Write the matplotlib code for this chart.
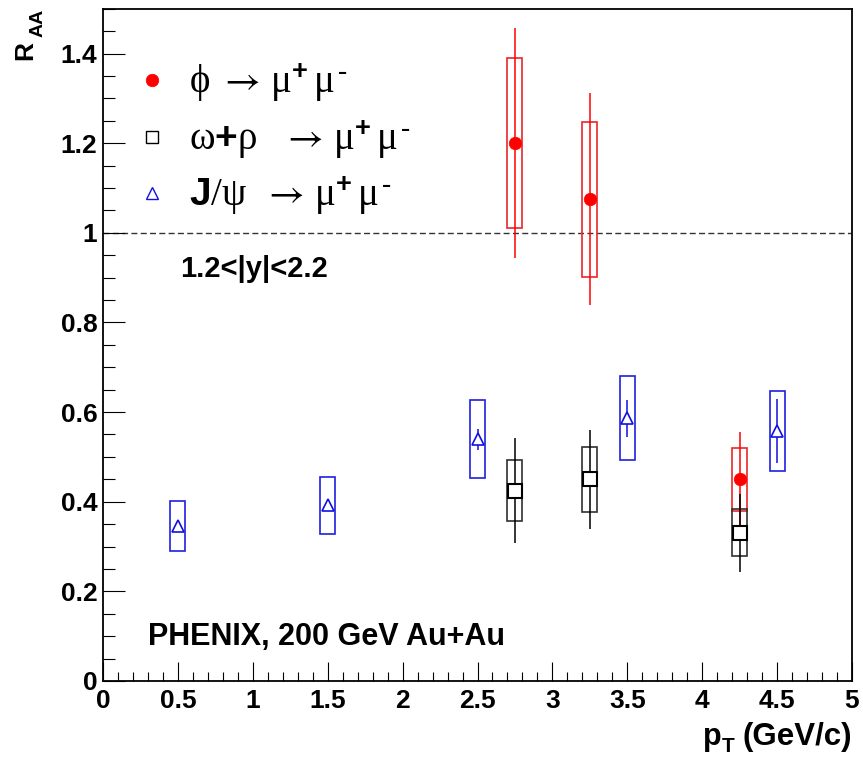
import matplotlib
matplotlib.use("Agg")
import matplotlib.pyplot as plt
from matplotlib.patches import Rectangle
from matplotlib.ticker import MultipleLocator

plt.rcParams['font.family'] = ['Liberation Sans', 'DejaVu Sans']
plt.rcParams['mathtext.fontset'] = 'custom'
plt.rcParams['mathtext.rm'] = 'Liberation Serif'
plt.rcParams['mathtext.it'] = 'Liberation Serif:italic'
plt.rcParams['mathtext.bf'] = 'Liberation Sans:bold'
plt.rcParams['mathtext.sf'] = 'STIXGeneral'

# phi -> mu+ mu-
phi_pt = [2.75, 3.25, 4.25]
phi_raa = [1.20, 1.075, 0.45]
phi_stat = [0.257, 0.236, 0.105]
phi_sys = [0.19, 0.173, 0.07]

# omega + rho -> mu+ mu-
omg_pt = [2.75, 3.25, 4.25]
omg_raa = [0.425, 0.450, 0.331]
omg_stat = [0.118, 0.110, 0.087]
omg_sys = [0.069, 0.073, 0.053]

# J/psi -> mu+ mu-
jpsi_pt = [0.5, 1.5, 2.5, 3.5, 4.5]
jpsi_raa = [0.345, 0.392, 0.539, 0.586, 0.558]
jpsi_stat = [0.010, 0.010, 0.024, 0.041, 0.071]
jpsi_sys = [0.056, 0.063, 0.087, 0.094, 0.089]

x_ticks = [0, 0.5, 1, 1.5, 2, 2.5, 3, 3.5, 4, 4.5, 5]
x_ticklabels = ['0', '0.5', '1', '1.5', '2', '2.5', '3', '3.5', '4', '4.5', '5']
y_ticks = [0, 0.2, 0.4, 0.6, 0.8, 1.0, 1.2, 1.4]
y_ticklabels = ['0', '0.2', '0.4', '0.6', '0.8', '1', '1.2', '1.4']

W, H = 863, 760
fig = plt.figure(figsize=(W / 100, H / 100), dpi=100)
ax = fig.add_axes([103 / W, 79 / H, (852 - 103) / W, (681 - 8.7) / H])
ax.set_xlim(0, 5)
ax.set_ylim(0, 1.5)

BOX_HALF = 0.05


def draw_series(pt, raa, stat, sys, color, box_color, marker, ms, mfc, mew, elw, blw):
    for x, y, e in zip(pt, raa, sys):
        ax.add_patch(Rectangle((x - BOX_HALF, y - e), 2 * BOX_HALF, 2 * e,
                               fill=False, edgecolor=box_color, lw=blw, zorder=2))
    ax.errorbar(pt, raa, yerr=stat, fmt='none', ecolor=color, elinewidth=elw,
                capsize=0, zorder=3)
    ax.plot(pt, raa, ls='none', marker=marker, ms=ms, mfc=mfc, mec=color,
            mew=mew, zorder=4)


draw_series(phi_pt, phi_raa, phi_stat, phi_sys, 'red', '#e8282a', 'o', 9, 'red', 0.5, 1.1, 1.2)
draw_series(omg_pt, omg_raa, omg_stat, omg_sys, 'black', '#303030', 's', 9.5, 'white', 1.5, 1.1, 1.2)
draw_series(jpsi_pt, jpsi_raa, jpsi_stat, jpsi_sys, '#1010e0', '#2020e0', '^', 9.3, 'white', 1.2, 1.1, 1.2)

ax.axhline(1.0, color='#333333', lw=1.0, ls=(0, (4.3, 2.4)), zorder=1)

# axes styling
for sp in ax.spines.values():
    sp.set_linewidth(1.3)
ax.set_xticks(x_ticks)
ax.set_xticklabels(x_ticklabels)
ax.set_yticks(y_ticks)
ax.set_yticklabels(y_ticklabels)
ax.xaxis.set_minor_locator(MultipleLocator(0.1))
ax.yaxis.set_minor_locator(MultipleLocator(0.05))
ax.tick_params(axis='x', which='major', direction='in', length=13.7, width=0.8,
               labelsize=19, pad=6, top=False)
ax.tick_params(axis='x', which='minor', direction='in', length=6.7, width=0.8, top=False)
ax.tick_params(axis='y', which='major', direction='in', length=16, width=0.8,
               labelsize=19, pad=4, right=False)
ax.tick_params(axis='y', which='minor', direction='in', length=8.3, width=0.8, right=False)
for lab in ax.get_xticklabels() + ax.get_yticklabels():
    lab.set_fontweight('bold')


def fx(px):
    return px / W


def fy(py):
    return 1 - py / H


SANS_B = dict(family=['Liberation Sans', 'DejaVu Sans'], weight='bold')


def put(x, y, s, size, props, rot=0):
    fig.text(fx(x), fy(y), s, ha='left', va='baseline', fontsize=size,
             rotation=rot, rotation_mode='anchor', **props)


# axis titles
put(32, 60, 'R', 19, SANS_B, rot=90)
put(43, 37, 'AA', 14, SANS_B, rot=90)
put(703, 745, 'p', 22, SANS_B)
put(722, 752, 'T', 15, SANS_B)
put(742, 745, '(GeV/c)', 22.5, SANS_B)

# annotations
put(180, 277, '1.2<|y|<2.2', 21, SANS_B)
put(148, 645, 'PHENIX, 200 GeV Au+Au', 22, SANS_B)

# legend
MUMU = (r'\mathsf{\rightarrow}\,\mathrm{\mu}^{\mathbf{+}}\,'
        r'\mathrm{\mu}^{\,\mathbf{\text{-}}}')
leg_labels = [
    r'$\mathrm{\phi}\ ' + MUMU + '$',
    r'$\mathrm{\omega}{\mathbf{+}}\mathrm{\rho}\ \ \:' + MUMU + '$',
    r'$\mathbf{J}/\mathrm{\psi}\ \;' + MUMU + '$',
]
leg_rows = [80, 137, 193]
leg_base = [93, 150, 206]
leg_styles = [
    dict(marker='o', ms=9, mfc='red', mec='red', mew=0.5),
    dict(marker='s', ms=8.5, mfc='white', mec='black', mew=1.0),
    dict(marker='^', ms=9, mfc='white', mec='#1010e0', mew=1.0),
]
for row_y, base_y, lab, st in zip(leg_rows, leg_base, leg_labels, leg_styles):
    fig.lines.append(plt.Line2D([fx(152)], [fy(row_y)], transform=fig.transFigure,
                                ls='none', **st))
    fig.text(fx(189), fy(base_y), lab, ha='left', va='baseline', fontsize=28)

fig.savefig('out.png', dpi=100)
